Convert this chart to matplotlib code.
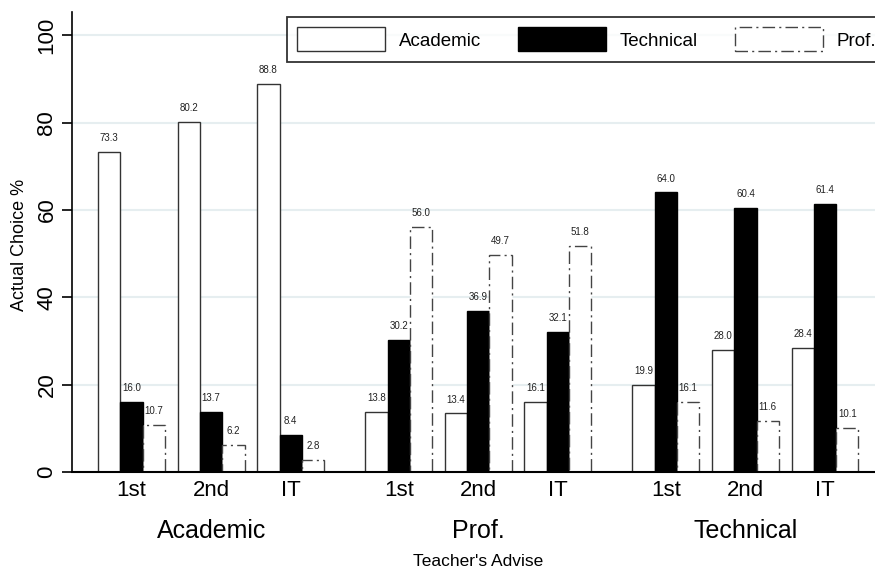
import numpy as np
import matplotlib.pyplot as plt
from matplotlib.patches import Patch
from matplotlib.transforms import blended_transform_factory

plt.rcParams['font.family'] = ['Liberation Sans', 'DejaVu Sans']

# teacher's advise groups and sub-groups
groups = ['Academic', 'Prof.', 'Technical']
subgroups = ['1st', '2nd', 'IT']

# actual choice % by series, ordered Academic(1st,2nd,IT), Prof.(...), Technical(...)
academic = [73.3, 80.2, 88.8, 13.8, 13.4, 16.1, 19.9, 28.0, 28.4]
technical = [16.0, 13.7, 8.4, 30.2, 36.9, 32.1, 64.0, 60.4, 61.4]
prof = [10.7, 6.2, 2.8, 56.0, 49.7, 51.8, 16.1, 11.6, 10.1]

W, H = 875, 569
fig = plt.figure(figsize=(W / 100, H / 100), dpi=100)
ax = fig.add_axes([72 / W, 1 - 472 / H, 1 - 72 / W, (472 - 12) / H])

bw = 1.0
step_sub = 3.565
step_grp = 11.97
centers = np.array([g * step_grp + s * step_sub
                    for g in range(len(groups)) for s in range(len(subgroups))])

edge = '#333333'
dashdot = (0, (9, 3, 1.5, 3))
b1 = ax.bar(centers - bw, academic, bw, color='white', edgecolor=edge, linewidth=1, zorder=2)
b2 = ax.bar(centers, technical, bw, color='black', edgecolor='black', linewidth=1, zorder=2)
b3 = ax.bar(centers + bw, prof, bw, color='white', edgecolor='#444444', linewidth=1,
            linestyle=dashdot, zorder=2)

for bars in (b1, b2, b3):
    for r in bars:
        ax.annotate(f'{r.get_height():.1f}', (r.get_x() + r.get_width() / 2, r.get_height()),
                    xytext=(0, 10), textcoords='offset points', ha='center', va='center',
                    fontsize=7, color='#222222')

ax.set_ylim(0, 105.3)
ax.set_xlim(centers[0] - 2.67, centers[-1] + 2.24)
ax.set_yticks([0, 20, 40, 60, 80, 100])
ax.set_yticklabels(['0', '20', '40', '60', '80', '100'], rotation=90, va='center', fontsize=16)
ax.tick_params(axis='y', length=7.5, width=1.2, pad=3)
ax.set_xticks(centers)
ax.set_xticklabels(subgroups * 3, fontsize=16)
ax.tick_params(axis='x', length=0, pad=6)
ax.grid(axis='y', color='#e6eef0', linewidth=1.5, zorder=0)
ax.set_axisbelow(True)

for s in ['top', 'right']:
    ax.spines[s].set_visible(False)
ax.spines['left'].set_linewidth(1.2)
ax.spines['bottom'].set_linewidth(1.5)

trans = blended_transform_factory(ax.transData, ax.transAxes)
for i, g in enumerate(groups):
    ax.text(centers[i * 3 + 1], -59 / 460, g, transform=trans, ha='center', va='center', fontsize=18)

fig.text(478 / W, 1 - 561 / H, "Teacher's Advise", ha='center', va='center', fontsize=12.5)
fig.text(20 / W, 1 - 245 / H, 'Actual Choice %', ha='center', va='center', rotation=90, fontsize=13)

handles = [Patch(facecolor='white', edgecolor=edge, linewidth=1),
           Patch(facecolor='black', edgecolor='black'),
           Patch(facecolor='white', edgecolor='#444444', linewidth=1, linestyle=dashdot)]
leg = fig.legend(handles, ['Academic', 'Technical', 'Prof.'], ncol=3,
                 loc='upper left', bbox_to_anchor=(287 / W, 1 - 17 / H),
                 fontsize=13.5, frameon=True, fancybox=False, edgecolor='black',
                 handlelength=4.7, handleheight=1.6, handletextpad=0.7,
                 columnspacing=2.0, borderpad=0.55, borderaxespad=0)
leg.get_frame().set_linewidth(1.3)

fig.savefig('out.png', dpi=100)
